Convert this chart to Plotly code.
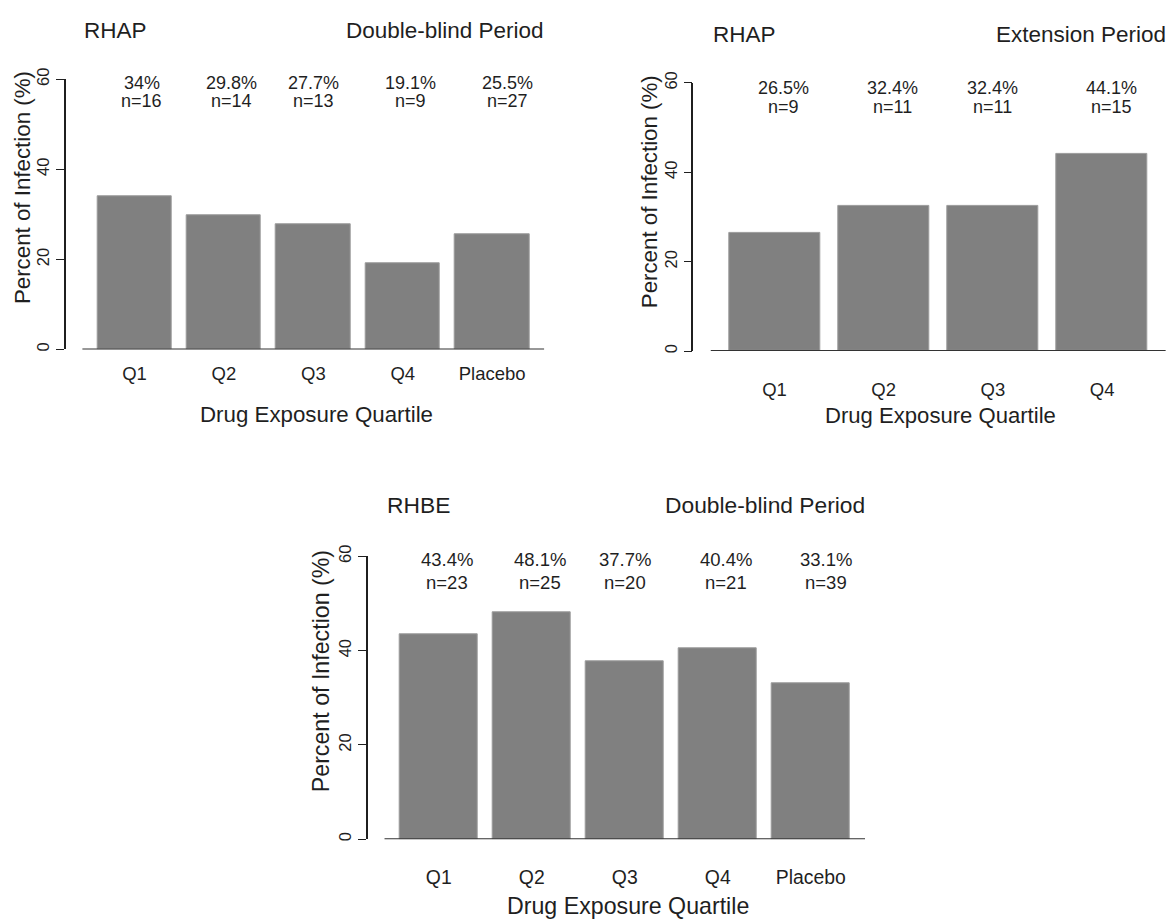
import plotly.graph_objects as go

W, H = 1170, 920

# RHAP, double-blind period
db_categories = ["Q1", "Q2", "Q3", "Q4", "Placebo"]
rhap_db_pct = [34.0, 29.8, 27.7, 19.1, 25.5]
rhap_db_n = [16, 14, 13, 9, 27]

# RHAP, extension period
ext_categories = ["Q1", "Q2", "Q3", "Q4"]
rhap_ext_pct = [26.5, 32.4, 32.4, 44.1]
rhap_ext_n = [9, 11, 11, 15]

# RHBE, double-blind period
rhbe_db_pct = [43.4, 48.1, 37.7, 40.4, 33.1]
rhbe_db_n = [23, 25, 20, 21, 39]

y_ticks = [0, 20, 40, 60]

# x positions (in bar units) of the percentage / n labels
label_x = [0.8, 2.0, 3.1, 4.4, 5.7]

FONT = "Liberation Sans, Arial, sans-serif"
INK = "#1f1f1f"
BAR = "#808080"

# panel geometry in pixels: plot box (left, right, top, bottom), axis range,
# text placement and sizes
panels = [
    dict(cats=db_categories, pct=rhap_db_pct, n=rhap_db_n,
         left="RHAP", right="Double-blind Period",
         box=(65.7, 544.3, 68.3, 342.7), xr=(-0.224, 6.2),
         title_y=18.3, xtitle=(316, 408.3), ytitle=(22.3, 178.5),
         lab_y=81.2, lab_half=9.5, standoff=11, tick_fs=18.5, ann_fs=18,
         title_fs=22.5, axt_fs=22.3, yt_fs=22.3),
    dict(cats=ext_categories, pct=rhap_ext_pct, n=rhap_ext_n,
         left="RHAP", right="Extension Period",
         box=(693.3, 1165.8, 72.0, 344.3), xr=(-0.192, 5.0),
         title_y=23.3, xtitle=(940.5, 410), ytitle=(649.5, 182.5),
         lab_y=86.7, lab_half=10, standoff=25, tick_fs=18.5, ann_fs=18,
         title_fs=22.5, axt_fs=22.1, yt_fs=22.3),
    dict(cats=db_categories, pct=rhbe_db_pct, n=rhbe_db_n,
         left="RHBE", right="Double-blind Period",
         box=(367.7, 865.0, 552.7, 840.0), xr=(-0.217, 6.2),
         title_y=500.7, xtitle=(627.5, 908.3), ytitle=(320.4, 669),
         lab_y=567.5, lab_half=11.5, standoff=24, tick_fs=19.4, ann_fs=18.5,
         title_fs=22.8, axt_fs=23.2, yt_fs=23.2),
]


def px_x(v):
    return v / W


def px_y(v):
    return 1 - v / H


fig = go.Figure()
annotations = []
shapes = []

for k, p in enumerate(panels):
    sfx = "" if k == 0 else str(k + 1)
    xa, ya = "x" + sfx, "y" + sfx
    x0, x1, y0, y1 = p["box"]
    centers = [0.7 + 1.2 * i for i in range(len(p["cats"]))]
    zero_px = x0 + (0 - p["xr"][0]) / (p["xr"][1] - p["xr"][0]) * (x1 - x0)

    fig.add_trace(go.Bar(
        x=centers, y=p["pct"], width=1.0,
        marker=dict(color=BAR, line=dict(width=1, color="#9c9c9c")),
        xaxis=xa, yaxis=ya, hoverinfo="skip", showlegend=False,
    ))

    fig.layout["xaxis" + sfx] = dict(
        domain=[px_x(x0), px_x(x1)], range=list(p["xr"]), anchor=ya,
        tickvals=centers, ticktext=p["cats"], ticks="", showline=False,
        showgrid=False, zeroline=False, ticklabelstandoff=p["standoff"],
        tickfont=dict(family=FONT, size=p["tick_fs"], color=INK),
        fixedrange=True,
    )
    fig.layout["yaxis" + sfx] = dict(
        domain=[px_y(y1), px_y(y0)], range=[0, 60], anchor=xa,
        tickvals=y_ticks, ticktext=[str(t) for t in y_ticks],
        ticks="outside", ticklen=8, tickwidth=1.3, tickcolor=INK,
        showline=True, linewidth=1.6, linecolor=INK, tickangle=-90,
        showgrid=False, zeroline=False,
        tickfont=dict(family=FONT, size=16.5, color=INK), fixedrange=True,
    )

    # category axis baseline
    shapes.append(dict(type="line", xref=xa, yref=ya, x0=0, x1=p["xr"][1],
                       y0=0, y1=0, line=dict(color="#333333", width=2)))

    # percentage and count labels above the bars
    for i, (v, n) in enumerate(zip(p["pct"], p["n"])):
        for txt, off in ((f"{v:g}%", -p["lab_half"]), (f"n={n}", p["lab_half"])):
            annotations.append(dict(
                xref=xa, yref="paper", x=label_x[i], y=px_y(p["lab_y"] + off),
                text=txt, showarrow=False, xanchor="center", yanchor="middle",
                font=dict(family=FONT, size=p["ann_fs"], color=INK)))

    # panel headings
    annotations.append(dict(
        xref="paper", yref="paper", x=px_x(zero_px), y=px_y(p["title_y"]),
        text=p["left"], showarrow=False, xanchor="left", yanchor="middle",
        font=dict(family=FONT, size=p["title_fs"], color=INK)))
    annotations.append(dict(
        xref="paper", yref="paper", x=px_x(min(x1 + 2, W - 1)), y=px_y(p["title_y"]),
        text=p["right"], showarrow=False, xanchor="right", yanchor="middle",
        font=dict(family=FONT, size=p["title_fs"], color=INK)))

    # axis titles
    annotations.append(dict(
        xref="paper", yref="paper", x=px_x(p["xtitle"][0]), y=px_y(p["xtitle"][1]),
        text="Drug Exposure Quartile", showarrow=False,
        xanchor="center", yanchor="middle",
        font=dict(family=FONT, size=p["axt_fs"], color=INK)))
    annotations.append(dict(
        xref="paper", yref="paper", x=px_x(p["ytitle"][0]), y=px_y(p["ytitle"][1]),
        text="Percent of Infection (%)", showarrow=False, textangle=-90,
        xanchor="center", yanchor="middle",
        font=dict(family=FONT, size=p["yt_fs"], color=INK)))

fig.update_layout(
    width=W, height=H, margin=dict(l=0, r=0, t=0, b=0),
    paper_bgcolor="white", plot_bgcolor="white",
    annotations=annotations, shapes=shapes, showlegend=False,
    bargap=0,
)

fig.write_html("out.html", config={"displayModeBar": False})
